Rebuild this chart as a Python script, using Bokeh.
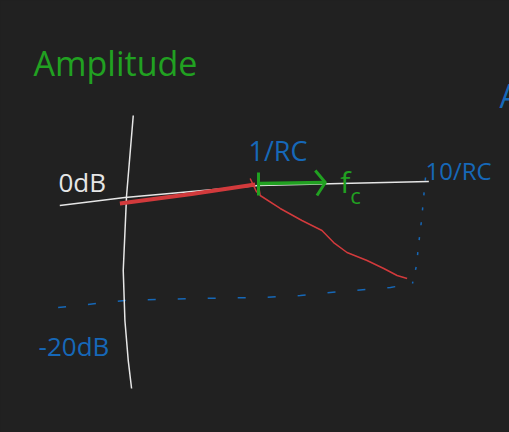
from bokeh.plotting import figure
from bokeh.models import Range1d
from bokeh.core.properties import value
from bokeh.embed import file_html
from bokeh.resources import INLINE

# Sketch in decades (x, 0 = 1/RC) and dB (y)
# axes
haxis_x = [-1.19, -0.80, 0.0, 0.49, 1.02]
haxis_y = [-3.76, -2.39, -0.34, 0.0, 0.34]
vaxis_x = [-0.75, -0.79, -0.81, -0.80, -0.78, -0.76]
vaxis_y = [11.62, -2.05, -14.87, -23.42, -30.26, -35.04]

# response (red)
pass_x = [-0.83, -0.40, -0.02]
pass_y = [-3.42, -1.80, -0.17]
tick_x = [-0.05, -0.01]
tick_y = [0.85, -1.54]
roll_x = [0.0, 0.01, 0.13, 0.26, 0.38, 0.45, 0.53, 0.65, 0.75, 0.83, 0.89]
roll_y = [-0.34, -2.05, -4.27, -6.32, -8.03, -10.09, -11.79, -13.16, -14.53, -15.73, -16.24]

# fc marker (green)
mark_x = [0.0, 0.0]
mark_y = [1.88, -2.05]
shaft_x = [0.0, 0.40]
shaft_y = [0.0, 0.17]
head_x = [0.34, 0.40, 0.35]
head_y = [2.22, 0.17, -2.05]

# -20 dB guides (blue)
guide_h_x = [-1.20, -0.80, -0.41, 0.01, 0.25, 0.49, 0.79, 0.92]
guide_h_y = [-21.20, -20.0, -19.66, -19.49, -19.15, -18.46, -17.78, -17.09]
guide_v_x = [1.0, 0.976, 0.958, 0.946, 0.922]
guide_v_y = [1.03, -6.32, -10.60, -14.02, -17.09]

bg = "#212121"
white = "#e6e6e6"
red = "#d23a3c"
green = "#21a121"
blue = "#1668b8"

p = figure(width=509, height=432, x_range=Range1d(-1.545, 1.503), y_range=Range1d(-42.56, 31.28),
           output_backend="svg", toolbar_location=None, min_border=0,
           background_fill_color=bg, border_fill_color=bg, outline_line_color=None)
p.axis.visible = False
p.grid.visible = False

p.line(guide_h_x, guide_h_y, line_color=blue, line_width=1.5, line_dash="8 22")
p.line(guide_v_x, guide_v_y, line_color=blue, line_width=1.5, line_dash="3 12")

p.line(haxis_x, haxis_y, line_color=white, line_width=1.5)
p.line(vaxis_x, vaxis_y, line_color=white, line_width=1.5)

p.line(pass_x, pass_y, line_color=red, line_width=4)
p.line(tick_x, tick_y, line_color=red, line_width=1.5)
p.line(roll_x, roll_y, line_color=red, line_width=1.5)

p.line(mark_x, mark_y, line_color=green, line_width=3)
p.line(shaft_x, shaft_y, line_color=green, line_width=3.5)
p.line(head_x, head_y, line_color=green, line_width=3, line_join="round")

font = value("Open Sans")
kw = dict(text_font=font, text_baseline="alphabetic")
p.text([-1.347], [20.68], text=["Amplitude"], text_color=green, text_font_size="34px", **kw)
p.text([1.443], [15.04], text=["A"], text_color=blue, text_font_size="32px", **kw)
p.text([-1.198], [0.34], text=["0dB"], text_color=white, text_font_size="26px", **kw)
p.text([-1.317], [-27.69], text=["-20dB"], text_color=blue, text_font_size="26px", **kw)
p.text([-0.06], [5.64], text=["1/RC"], text_color=blue, text_font_size="27px", **kw)
p.text([1.0], [2.22], text=["10/RC"], text_color=blue, text_font_size="24px", **kw)
p.text([0.49], [0.34], text=["f"], text_color=green, text_font_size="30px", **kw)
p.text([0.55], [-2.05], text=["c"], text_color=green, text_font_size="22px", **kw)

html = file_html(p, INLINE).replace("<head>", "<head><style>body{background:%s;}</style>" % bg, 1)
open("out.html", "w").write(html)
